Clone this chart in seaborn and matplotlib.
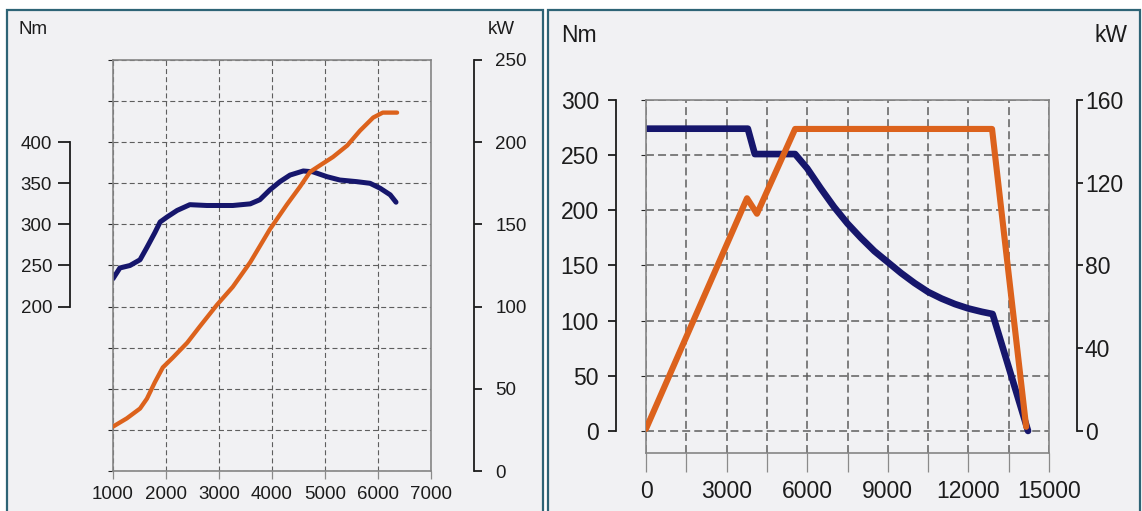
import matplotlib
matplotlib.use("Agg")
import matplotlib.pyplot as plt
from matplotlib.patches import Rectangle
from matplotlib.ticker import FixedLocator, FixedFormatter
import seaborn as sns

# ---------------- data ----------------
# left: combustion engine, torque (Nm) and power (kW) over rpm
ice_rpm_torque = [1000, 1130, 1320, 1510, 1640, 1790, 1890, 2020, 2210, 2450, 2770, 3260, 3590,
                  3770, 3960, 4150, 4340, 4590, 4770, 5040, 5280, 5600, 5850, 6040, 6230, 6340]
ice_torque = [234, 247, 250, 257, 272, 290, 303, 309, 317, 324, 323, 323, 325,
              330, 342, 352, 360, 365, 364, 358, 354, 352, 350, 344, 336, 327]
ice_rpm_power = [1000, 1260, 1510, 1640, 1790, 1940, 2130, 2400, 2640, 2960, 3260, 3590,
                 3960, 4280, 4530, 4720, 4910, 5150, 5420, 5660, 5910, 6090, 6360]
ice_power = [27, 32, 38, 44, 54, 63, 69, 78, 88, 101, 112, 127,
             147, 162, 173, 182, 186, 191, 198, 207, 215, 218, 218]

# right: electric motor
em_rpm_torque = [0, 3790, 4050, 5550, 6000, 6500, 7000, 7500, 8000, 8500, 9000, 9500,
                 10000, 10500, 11000, 11500, 12000, 12500, 12900, 14220]
em_torque = [274, 274, 251, 251, 238, 220, 203, 188, 175, 163, 153, 143,
             134, 126, 120, 115, 111, 108, 106, 0]
em_rpm_power = [0, 3760, 4130, 5550, 12880, 14150]
em_power = [1, 112.5, 105, 146, 146, 2]

ice_xticks = [1000, 2000, 3000, 4000, 5000, 6000, 7000]
ice_nm_ticks = [200, 250, 300, 350, 400]
ice_kw_ticks = [0, 50, 100, 150, 200, 250]
em_xticks = list(range(0, 15001, 1500))
em_nm_ticks = [0, 50, 100, 150, 200, 250, 300]
em_kw_ticks = [0, 40, 80, 120, 160]

# ---------------- style ----------------
sns.set_style("white")
plt.rcParams['font.family'] = ['Liberation Sans', 'DejaVu Sans']

NAVY = '#16166c'
ORANGE = '#dc621c'
PANEL = '#f1f1f3'
BORDER = '#2e6476'
BOX = '#858585'
GRID = '#5e5e5e'
TXT = '#1c1c1c'

W, H = 1142, 511
fig = plt.figure(figsize=(W / 100, H / 100), dpi=100, facecolor='white')


def fx(px):
    return px / W


def fy(py):
    return 1 - py / H


# panel frames
for x0, x1 in [(7, 543), (548, 1140)]:
    fig.patches.append(Rectangle((fx(x0), -0.05), fx(x1) - fx(x0), fy(10) + 0.05,
                                 transform=fig.transFigure, facecolor=PANEL,
                                 edgecolor=BORDER, linewidth=1.6, zorder=-5))


def setup_box(ax, xlim, ylim, yticks, fs, tick_len, pad, dash, glw):
    ax.set_facecolor('none')
    ax.set_xlim(*xlim)
    ax.set_ylim(*ylim)
    ax.set_yticks(yticks)
    for s in ax.spines.values():
        s.set_visible(True)
        s.set_color(BOX)
        s.set_linewidth(1.2)
    ax.grid(True, color=GRID, linestyle=(0, dash), linewidth=glw)
    ax.tick_params(axis='y', left=False, right=False, labelleft=False)
    ax.tick_params(axis='x', bottom=True, direction='out', length=tick_len, width=0.9,
                   color='#8a8a8a', pad=pad, labelsize=fs, labelcolor=TXT)
    ax.set_xlabel('')
    ax.set_ylabel('')


def side_axis(ax, side, ylim, ticks, offset, fs, length, pad):
    t = ax.twinx()
    t.set_ylim(*ylim)
    for name, s in t.spines.items():
        s.set_visible(name == side)
    sp = t.spines[side]
    sp.set_position(('outward', offset))
    sp.set_bounds(ticks[0], ticks[-1])
    sp.set_color(TXT)
    sp.set_linewidth(1.3)
    t.set_yticks(ticks)
    if side == 'left':
        t.yaxis.tick_left()
    else:
        t.yaxis.tick_right()
    t.tick_params(axis='y', direction='out', length=length, width=1.3, color=TXT,
                  pad=pad, labelsize=fs, labelcolor=TXT)
    t.set_ylabel('')
    return t


# ---------------- left diagram ----------------
ax1 = fig.add_axes([fx(113), fy(471), fx(431) - fx(113), (471 - 60) / H])
sns.lineplot(x=ice_rpm_torque, y=ice_torque, ax=ax1, color=NAVY, linewidth=3.6,
             estimator=None, sort=False, solid_capstyle='round')
setup_box(ax1, (1000, 7000), (0, 500), list(range(0, 501, 50)), 13.5, 5.8, 5.0, (4.5, 2.8), 0.8)
ax1.set_xticks(ice_xticks)

side_axis(ax1, 'left', (0, 500), ice_nm_ticks, 31, 13.5, 8.6, 4.3)
ax1_kw = side_axis(ax1, 'right', (0, 250), ice_kw_ticks, 31, 13.5, 5.8, 9.4)
sns.lineplot(x=ice_rpm_power, y=ice_power, ax=ax1_kw, color=ORANGE, linewidth=3.1,
             estimator=None, sort=False, solid_capstyle='round')
ax1_kw.set_ylim(0, 250)
ax1_kw.set_ylabel('')
ax1_kw.set_xlabel('')

fig.text(fx(19), fy(30), 'Nm', fontsize=13.5, color=TXT, ha='left', va='center')
fig.text(fx(488), fy(30), 'kW', fontsize=13.5, color=TXT, ha='left', va='center')

# ---------------- right diagram ----------------
ax2 = fig.add_axes([fx(646), fy(453), fx(1049) - fx(646), (453 - 100) / H])
sns.lineplot(x=em_rpm_torque, y=em_torque, ax=ax2, color=NAVY, linewidth=4.8,
             estimator=None, sort=False, solid_capstyle='round')
setup_box(ax2, (0, 15000), (-20, 300), em_nm_ticks, 16.5, 13.7, 6.0, (5.2, 2.7), 1.1)
ax2.xaxis.set_major_locator(FixedLocator(em_xticks))
ax2.xaxis.set_major_formatter(FixedFormatter([str(v) if v % 3000 == 0 else '' for v in em_xticks]))

side_axis(ax2, 'left', (-20, 300), em_nm_ticks, 21.6, 16.5, 5.8, 6.5)
kw_low = -20 * 160 / 300
ax2_kw = side_axis(ax2, 'right', (kw_low, 160), em_kw_ticks, 20, 16.5, 4.3, 1.5)
sns.lineplot(x=em_rpm_power, y=em_power, ax=ax2_kw, color=ORANGE, linewidth=4.4,
             estimator=None, sort=False, solid_capstyle='round')
ax2_kw.set_ylim(kw_low, 160)
ax2_kw.set_ylabel('')
ax2_kw.set_xlabel('')

fig.text(fx(561), fy(35), 'Nm', fontsize=16.5, color=TXT, ha='left', va='center')
fig.text(fx(1127), fy(35), 'kW', fontsize=16.5, color=TXT, ha='right', va='center')

fig.savefig('out.png', dpi=100, facecolor='white')
